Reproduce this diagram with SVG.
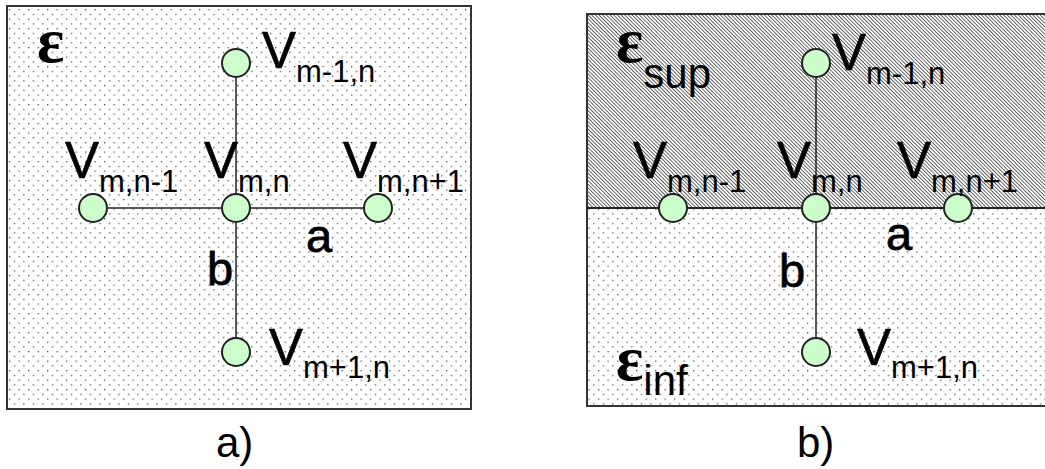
<svg xmlns="http://www.w3.org/2000/svg" width="1045" height="469" viewBox="0 0 1045 469">
<defs>
<pattern id="dots" patternUnits="userSpaceOnUse" x="9" y="9" width="9.5" height="9.5">
<rect x="0" y="0" width="9.5" height="9.5" fill="#ffffff"/>
<rect x="0" y="0" width="1.3" height="1.3" fill="#555"/>
<rect x="4.75" y="4.75" width="1.3" height="1.3" fill="#555"/>
</pattern>
<pattern id="hatch" patternUnits="userSpaceOnUse" width="2.6" height="2.6" patternTransform="rotate(45)">
<rect x="0" y="0" width="2.6" height="2.6" fill="#ffffff"/>
<rect x="0" y="0" width="2.6" height="0.8" fill="#444"/>
</pattern>
</defs>
<style>
.box{stroke:#333;stroke-width:2}
.node{fill:#ccffcc;stroke:#222;stroke-width:2}
.edge{stroke:#222;stroke-width:1.5;fill:none}
.div{stroke:#222;stroke-width:2}
.v{font-family:"Liberation Sans",Arial,sans-serif;font-size:51px;fill:#000;stroke:#000;stroke-width:0.6}
.sub{font-size:31px;stroke-width:0}
.lbl{font-family:"Liberation Sans",Arial,sans-serif;font-size:47px;fill:#000;stroke:#000;stroke-width:0.8}
.cap{font-family:"Liberation Sans",Arial,sans-serif;font-size:42px;fill:#000}
.eps{font-family:"Liberation Serif","Times New Roman",serif;font-size:64px;font-weight:bold;fill:#000}
.esub{font-family:"Liberation Sans",Arial,sans-serif;font-size:42px;font-weight:normal}
</style>

<rect id="panel-a" x="7" y="6" width="464" height="403" fill="url(#dots)" class="box"/>
<g id="panel-b">
<rect x="587" y="14" width="470" height="194" fill="url(#hatch)"/>
<rect x="587" y="208" width="470" height="198" fill="url(#dots)"/>
<rect x="587" y="14" width="470" height="392" fill="none" class="box"/>
<line x1="587" y1="208" x2="1045" y2="208" class="div"/>
</g>

<g id="connectors">
<line class="edge" x1="236" y1="63" x2="236" y2="352"/>
<line class="edge" x1="93" y1="208" x2="378" y2="208"/>
<line class="edge" x1="816" y1="63" x2="816" y2="352"/>
<line class="edge" x1="673" y1="208" x2="958" y2="208"/>
</g>

<text class="eps" x="37" y="62">ε</text>
<text class="lbl" x="306" y="252">a</text>
<text class="lbl" x="207" y="285">b</text>
<text class="cap" x="216" y="457">a)</text>

<g id="a-top">
<circle class="node" cx="236" cy="63" r="14"/>
<text class="v" x="262" y="68">V<tspan class="sub" dy="14">m-1,n</tspan></text>
</g>
<g id="a-left">
<circle class="node" cx="93" cy="208" r="14"/>
<text class="v" x="65" y="178">V<tspan class="sub" dy="14">m,n-1</tspan></text>
</g>
<g id="a-center">
<circle class="node" cx="236" cy="208" r="14"/>
<text class="v" x="204" y="178">V<tspan class="sub" dy="14">m,n</tspan></text>
</g>
<g id="a-right">
<circle class="node" cx="378" cy="208" r="14"/>
<text class="v" x="343" y="178">V<tspan class="sub" dy="14">m,n+1</tspan></text>
</g>
<g id="a-bottom">
<circle class="node" cx="236" cy="352" r="14"/>
<text class="v" x="269" y="365">V<tspan class="sub" dy="13">m+1,n</tspan></text>
</g>

<text class="eps" x="616" y="62">ε<tspan class="esub" dy="26">sup</tspan></text>
<text class="eps" x="616" y="380">ε<tspan class="esub" dy="15">inf</tspan></text>
<text class="lbl" x="886" y="250">a</text>
<text class="lbl" x="779" y="287">b</text>
<text class="cap" x="797" y="457">b)</text>

<g id="b-top">
<circle class="node" cx="816" cy="63" r="14"/>
<text class="v" x="832" y="70">V<tspan class="sub" dy="14">m-1,n</tspan></text>
</g>
<g id="b-left">
<circle class="node" cx="673" cy="208" r="14"/>
<text class="v" x="633" y="178">V<tspan class="sub" dy="14">m,n-1</tspan></text>
</g>
<g id="b-center">
<circle class="node" cx="816" cy="208" r="14"/>
<text class="v" x="777" y="178">V<tspan class="sub" dy="14">m,n</tspan></text>
</g>
<g id="b-right">
<circle class="node" cx="958" cy="208" r="14"/>
<text class="v" x="897" y="178">V<tspan class="sub" dy="14">m,n+1</tspan></text>
</g>
<g id="b-bottom">
<circle class="node" cx="816" cy="352" r="14"/>
<text class="v" x="857" y="365">V<tspan class="sub" dy="13">m+1,n</tspan></text>
</g>
</svg>
